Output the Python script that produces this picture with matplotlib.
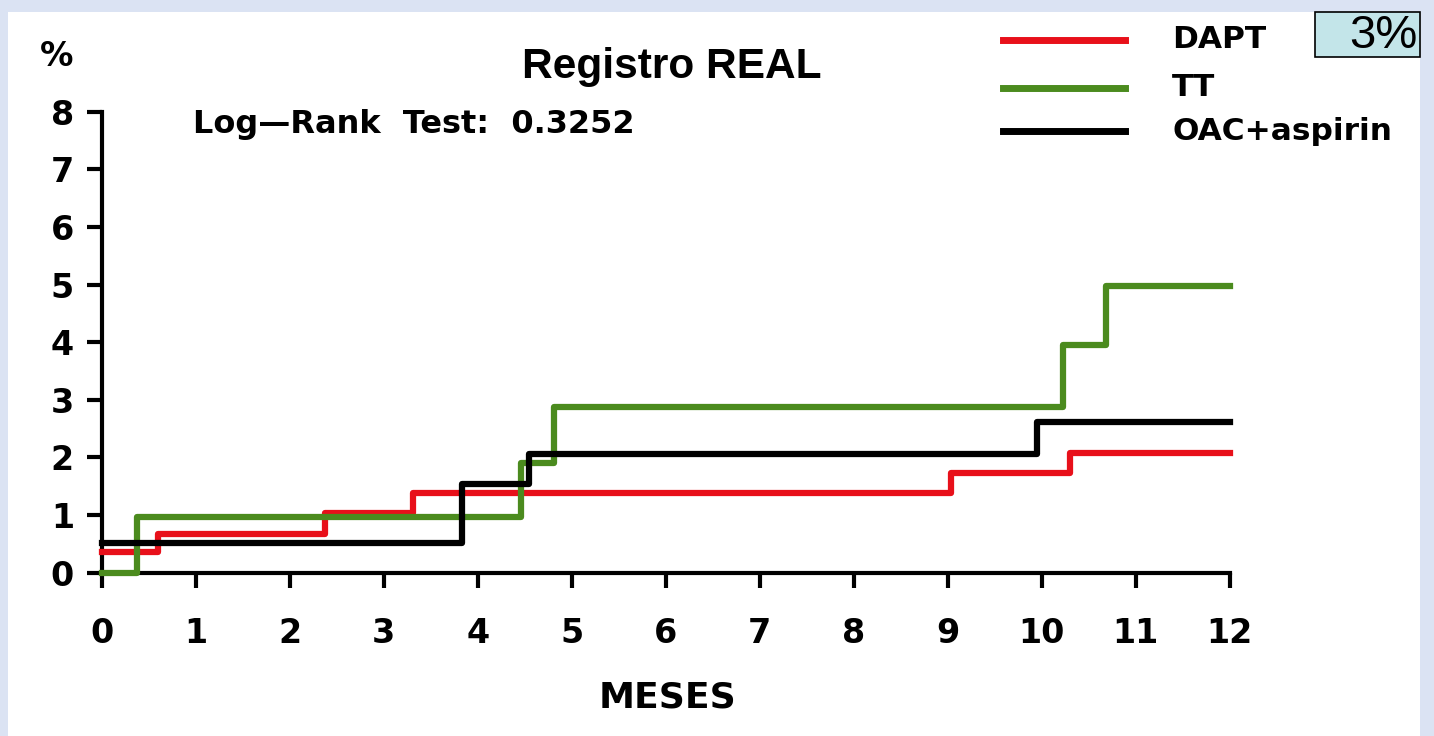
import matplotlib.pyplot as plt
from matplotlib.patches import Rectangle

# Kaplan-Meier style curves, % events by month
dapt_t = [0, 0.6, 2.38, 3.31, 9.04, 10.30, 12]
dapt_y = [0.36, 0.68, 1.03, 1.38, 1.73, 2.07, 2.07]

tt_t = [0, 0.38, 4.46, 4.81, 10.23, 10.68, 12]
tt_y = [0.0, 0.96, 1.90, 2.88, 3.95, 4.97, 4.97]

oac_t = [0, 3.83, 4.55, 9.95, 12]
oac_y = [0.52, 1.54, 2.06, 2.61, 2.61]

series = [("DAPT", dapt_t, dapt_y, "#e8101a"),
          ("TT", tt_t, tt_y, "#4b8b1e"),
          ("OAC+aspirin", oac_t, oac_y, "black")]

W, H = 1434, 736
fig = plt.figure(figsize=(W / 100, H / 100), dpi=100, facecolor="#dbe3f3")

# white slide panel behind everything
fig.patches.append(Rectangle((8 / W, 0), (1420 - 8) / W, 1 - 12 / H,
                             transform=fig.transFigure, facecolor="white",
                             edgecolor="none", zorder=-5))

ax = fig.add_axes([101.7 / W, 1 - 572.7 / H, 1128 / W, 461 / H])
ax.set_facecolor("none")

for name, t, y, c in series:
    ax.step(t, y, where="post", color=c, lw=4.5, clip_on=False,
            solid_joinstyle="round", zorder=3)

ax.set_xlim(0, 12)
ax.set_ylim(0, 8)
ax.set_xticks(range(0, 13))
ax.set_yticks(range(0, 9))
for s in ["top", "right"]:
    ax.spines[s].set_visible(False)
for s in ["left", "bottom"]:
    ax.spines[s].set_linewidth(3)
ax.tick_params(axis="both", length=11, width=3, labelsize=24)
ax.tick_params(axis="x", pad=21)
ax.tick_params(axis="y", pad=9)
for lab in ax.get_xticklabels() + ax.get_yticklabels():
    lab.set_fontweight("bold")


def ftext(x, y, s, **kw):
    fig.text(x / W, 1 - y / H, s, **kw)


ftext(57, 57, "%", fontsize=24, fontweight="bold", ha="center", va="center")
ftext(672, 67, "Registro REAL", fontsize=30.5, fontweight="bold",
      family="Liberation Sans", ha="center", va="center")
ftext(193, 125, "Log\u2014Rank  Test:  0.3252", fontsize=23,
      fontweight="bold", ha="left", va="center")
ftext(667, 698, "MESES", fontsize=26, fontweight="bold", ha="center",
      va="center")

# legend drawn by hand at top right
leg_y = [40, 88, 131]
for (name, t, y, c), ly in zip(series, leg_y):
    fig.lines.append(plt.Line2D([1003 / W, 1125 / W], [1 - ly / H, 1 - ly / H],
                                transform=fig.transFigure, color=c, lw=5))
    ftext(1172, ly, name, fontsize=22.5, fontweight="heavy",
          ha="left", va="center")

# "3%" box
fig.patches.append(Rectangle((1315 / W, 1 - 57 / H), 105 / W, 45 / H,
                             transform=fig.transFigure, facecolor="#c3e5e9",
                             edgecolor="black", lw=1.2, zorder=2))
ftext(1383, 36, "3%", fontsize=34, family="Liberation Sans", ha="center",
      va="center", zorder=3)

fig.savefig("out.png", dpi=100, facecolor=fig.get_facecolor())
